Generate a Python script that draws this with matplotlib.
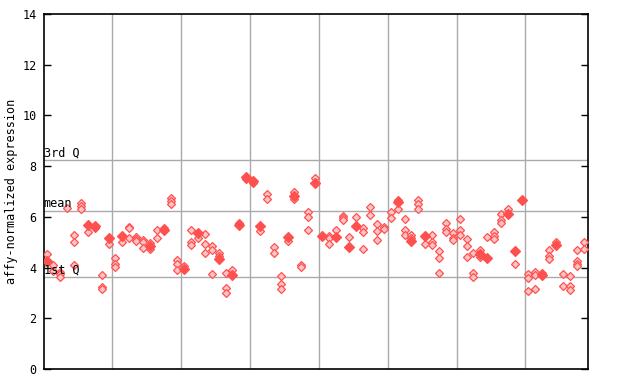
import matplotlib
matplotlib.use("Agg")
import matplotlib.pyplot as plt

# valeurs (une liste par colonne / echantillon)
expr = [
    [4.53], [4.11, 3.87], [3.84, 3.74, 3.62], [6.34], [5.29, 5.00, 4.11],
    [6.56, 6.44, 6.32], [5.39], [5.58], [3.71, 3.25, 3.16], [4.92],
    [4.37, 4.13, 4.04], [5.00], [5.61, 5.55, 5.16], [5.22, 5.13, 5.05], [5.09, 5.00, 4.76],
    [4.96, 4.72], [5.47, 5.16], [5.58], [6.73, 6.63, 6.51], [4.28, 4.15, 3.90],
    [4.05], [5.47, 5.00, 4.89], [5.18], [5.31, 4.92, 4.57], [4.85, 4.70, 3.74],
    [4.57, 4.47], [3.78, 3.19, 2.98], [3.91], [5.76], [7.49],
    [7.32], [5.44], [6.89, 6.70], [4.83, 4.57], [3.66, 3.37, 3.15],
    [5.03], [6.97, 6.72], [4.11, 4.04], [6.20, 5.98, 5.48], [7.52],
    [], [5.26, 5.16, 4.92], [5.48], [6.05, 5.94, 5.86], [5.21],
    [5.98], [5.56, 5.39, 4.74], [6.39, 6.06], [5.72, 5.44, 5.08], [5.60, 5.52],
    [6.19, 5.94], [6.68, 6.31], [5.92, 5.48, 5.27], [5.27, 5.16], [6.68, 6.49, 6.32],
    [4.92], [5.27, 4.99, 4.89], [4.64, 4.37, 3.79], [5.75, 5.52, 5.42], [5.35, 5.18, 5.08],
    [5.92, 5.47, 5.30], [5.13, 4.84, 4.41], [4.58, 3.78, 3.63], [4.68, 4.43], [5.21],
    [5.39, 5.26, 5.13], [6.10, 5.86, 5.77], [6.30], [4.15], [],
    [3.75, 3.58, 3.08], [3.82, 3.71, 3.15], [3.78], [4.68, 4.46, 4.34], [5.01],
    [3.74, 3.27], [3.66, 3.28, 3.10], [4.68, 4.26, 4.16, 4.08], [5.00, 4.72],
]
# points superposes (losanges pleins)
solid = [
    [4.24], [], [], [], [], [], [5.67], [5.65], [], [5.16],
    [], [5.23], [], [], [], [4.87], [], [5.47], [], [],
    [3.93], [], [5.38], [], [], [4.34], [], [3.69], [5.68], [7.58],
    [7.43], [5.62], [], [], [], [5.22], [6.84], [], [], [7.35],
    [5.26], [], [5.22], [], [4.83], [5.62], [], [], [], [],
    [], [6.60], [], [5.04], [], [5.26], [], [], [], [],
    [], [], [], [4.55], [4.39], [], [], [6.13], [4.67], [6.68],
    [], [], [3.69], [], [4.89], [], [], [], [],
]
Q1, MEAN, Q3 = 3.62, 6.22, 8.24
GROUP_EDGES = [9.55, 19.55, 29.55, 39.55, 49.55, 59.55, 69.55]

RED = "#ff5050"
PINK = "#ffc4c4"
MONO = "DejaVu Sans Mono"
FS = 8.5

fig = plt.figure(figsize=(6.4, 3.84), dpi=100)
ax = fig.add_axes([43.5 / 640, 15 / 384, 544.5 / 640, 355 / 384])

for x in GROUP_EDGES:
    ax.axvline(x, color="#aaaaaa", lw=1.0, zorder=1)
for y in (Q1, MEAN, Q3):
    ax.axhline(y, color="#aaaaaa", lw=1.0, zorder=1)

for i, vals in enumerate(expr):
    ax.plot([i] * len(vals), vals, ls="none", marker="D", ms=4.3,
            mfc=PINK, mec=RED, mew=0.9, zorder=3)
for i, vals in enumerate(solid):
    ax.plot([i] * len(vals), vals, ls="none", marker="D", ms=4.6,
            mfc=RED, mec=RED, mew=0.9, zorder=3)

for y, lab in ((Q3, "3rd Q"), (MEAN, "mean"), (Q1, "1st Q")):
    ax.text(-0.4, y + 0.04, lab, fontsize=FS, family=MONO,
            ha="left", va="bottom", zorder=4)

ax.set_xlim(-0.45, 78.65)
ax.set_ylim(0, 14)
ax.set_yticks(range(0, 15, 2))
ax.set_xticks([])
ax.tick_params(axis="y", direction="in", length=5, width=1,
               right=True, labelsize=FS, pad=5)
for lab in ax.get_yticklabels():
    lab.set_family(MONO)
for sp in ax.spines.values():
    sp.set_linewidth(1.2)
ax.set_ylabel("affy-normalized expression", family=MONO, fontsize=FS, labelpad=3)

fig.savefig("out.png", dpi=100)
